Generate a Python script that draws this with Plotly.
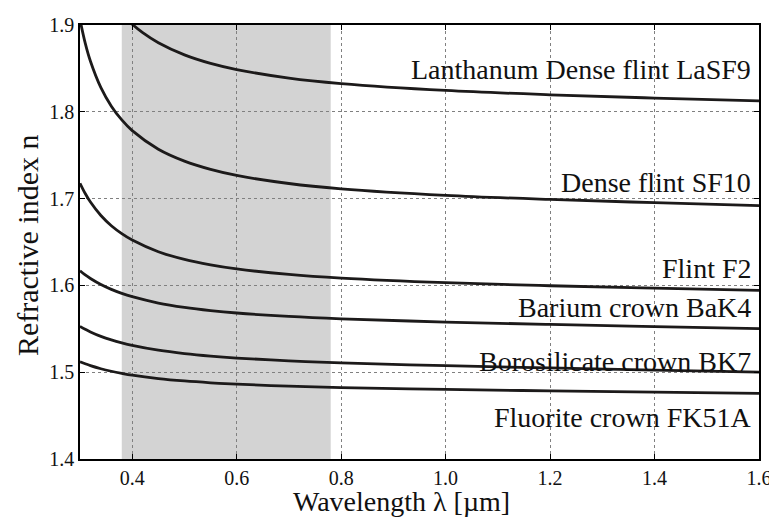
import plotly.graph_objects as go

# Wavelength samples (µm)
wl = [0.30, 0.31, 0.32, 0.34, 0.36, 0.38, 0.40, 0.45, 0.50, 0.55, 0.60, 0.70, 0.80, 1.00, 1.20, 1.40, 1.60]
wl_lasf9 = [0.38, 0.39, 0.40, 0.42, 0.45, 0.50, 0.55, 0.60, 0.70, 0.80, 1.00, 1.20, 1.40, 1.60]

n_lasf9 = [1.9129, 1.9066, 1.9009, 1.8912, 1.8796, 1.8656, 1.8558, 1.8487, 1.8388, 1.8325, 1.8246, 1.8196, 1.8158, 1.8125]
n_sf10 = [1.9062, 1.8791, 1.8582, 1.8278, 1.8065, 1.7906, 1.7783, 1.7569, 1.7432, 1.7337, 1.7267, 1.7174, 1.7113, 1.7038, 1.6990, 1.6953, 1.6919]
n_f2 = [1.7177, 1.7059, 1.6960, 1.6805, 1.6687, 1.6596, 1.6522, 1.6388, 1.6299, 1.6237, 1.6190, 1.6126, 1.6084, 1.6031, 1.5996, 1.5968, 1.5943]
n_bak4 = [1.6169, 1.6120, 1.6080, 1.6010, 1.5954, 1.5908, 1.5870, 1.5797, 1.5747, 1.5710, 1.5682, 1.5642, 1.5615, 1.5578, 1.5550, 1.5526, 1.5503]
n_bk7 = [1.5528, 1.5495, 1.5464, 1.5413, 1.5372, 1.5338, 1.5309, 1.5253, 1.5214, 1.5185, 1.5163, 1.5131, 1.5108, 1.5075, 1.5049, 1.5025, 1.5000]
n_fk51a = [1.5120, 1.5098, 1.5076, 1.5040, 1.5011, 1.4987, 1.4966, 1.4927, 1.4899, 1.4878, 1.4862, 1.4839, 1.4823, 1.4801, 1.4785, 1.4770, 1.4756]

labels = ["Lanthanum Dense flint LaSF9", "Dense flint SF10", "Flint F2",
          "Barium crown BaK4", "Borosilicate crown BK7", "Fluorite crown FK51A"]
label_y = [1.849, 1.719, 1.620, 1.575, 1.512, 1.448]

x_title = "Wavelength λ [µm]"
y_title = "Refractive index n"

visible_band = [0.38, 0.78]
x_ticks = [0.4, 0.6, 0.8, 1.0, 1.2, 1.4, 1.6]
y_ticks = [1.4, 1.5, 1.6, 1.7, 1.8, 1.9]

FONT = "Liberation Serif"
TXT = "#111111"
LINE = "#1c1a1a"

fig = go.Figure()
series = [(wl_lasf9, n_lasf9), (wl, n_sf10), (wl, n_f2), (wl, n_bak4), (wl, n_bk7), (wl, n_fk51a)]
for (xs, ys), name in zip(series, labels):
    fig.add_trace(go.Scatter(x=xs, y=ys, mode="lines", name=name,
                             line=dict(color=LINE, width=2.8, shape="spline", smoothing=1.0),
                             showlegend=False, hoverinfo="skip"))

fig.add_shape(type="rect", xref="x", yref="paper", x0=visible_band[0], x1=visible_band[1],
              y0=0, y1=1, fillcolor="#d3d3d3", line=dict(width=0), layer="below")

for txt, yy in zip(labels, label_y):
    fig.add_annotation(x=1.588, y=yy, xref="x", yref="y", text=txt, showarrow=False,
                       xanchor="right", yanchor="middle",
                       font=dict(family=FONT, size=28, color=TXT))

# axis titles placed as annotations (paper coords)
fig.add_annotation(x=0.474, y=-0.099, xref="paper", yref="paper", text=x_title, showarrow=False,
                   xanchor="center", yanchor="middle", font=dict(family=FONT, size=28, color=TXT))
fig.add_annotation(x=-0.078, y=0.493, xref="paper", yref="paper", text=y_title, showarrow=False,
                   textangle=-90, xanchor="center", yanchor="middle", font=dict(family=FONT, size=30, color=TXT))

axis_common = dict(showline=True, linecolor="black", linewidth=1.5, mirror="ticks",
                   ticks="inside", ticklen=5, tickwidth=1, tickcolor="black",
                   showgrid=True, gridcolor="#808080", gridwidth=1, griddash="dot",
                   zeroline=False, tickfont=dict(family=FONT, size=20, color=TXT), automargin=False)

fig.update_xaxes(range=[0.3, 1.6], tickvals=x_ticks, ticktext=[f"{v:.1f}" for v in x_ticks], **axis_common)
fig.update_yaxes(range=[1.4, 1.9], tickvals=y_ticks, ticktext=[f"{v:.1f}" for v in y_ticks], **axis_common)

# page body has an 8px margin: shrink figure so the plot area lands where the reference has it
fig.update_layout(width=769, height=513, margin=dict(l=72, r=18, t=17, b=62),
                  font=dict(family=FONT, color=TXT),
                  paper_bgcolor="white", plot_bgcolor="white")

fig.write_html("out.html")
